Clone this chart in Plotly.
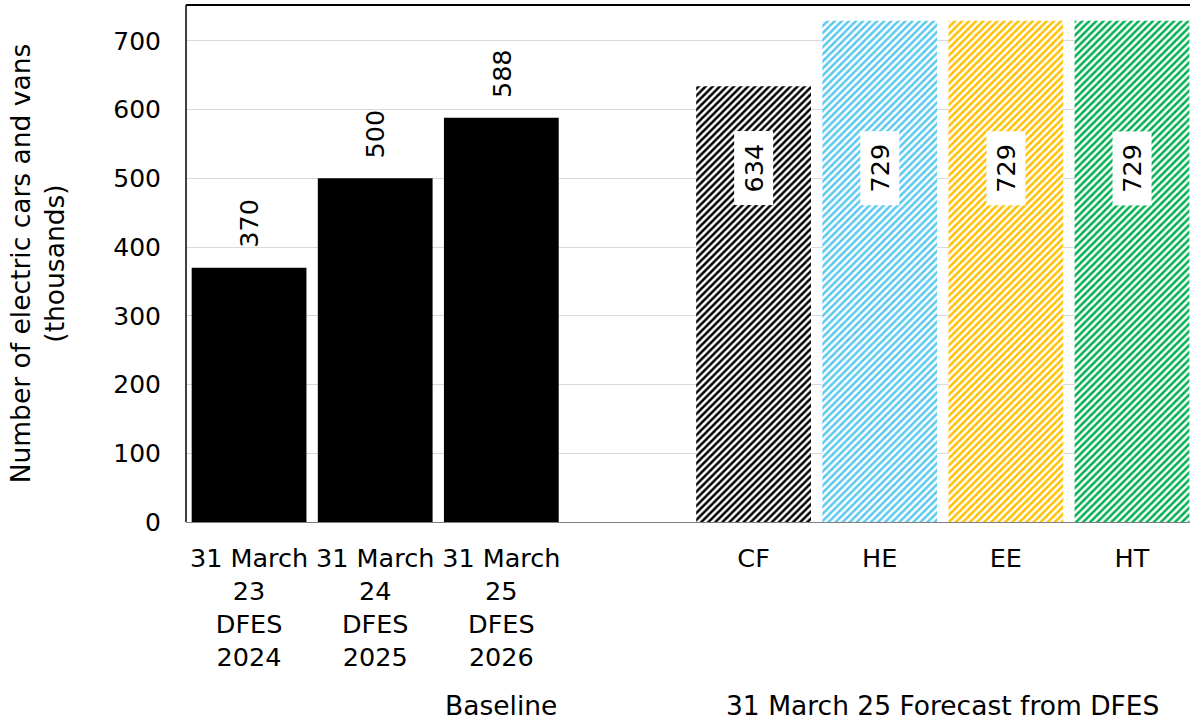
import plotly.graph_objects as go

# Baseline values (thousands of electric cars and vans)
baseline_labels = ["31 March<br>23<br>DFES<br>2024", "31 March<br>24<br>DFES<br>2025", "31 March<br>25<br>DFES<br>2026"]
baseline_values = [370, 500, 588]

# Scenario forecasts for 31 March 25
forecast_labels = ["CF", "HE", "EE", "HT"]
forecast_values = [634, 729, 729, 729]
forecast_colors = ["#000000", "#5BC8F0", "#FFC000", "#00B050"]

group_labels = ["Baseline", "31 March 25 Forecast from DFES"]

FONT = "DejaVu Sans"
FS = 26.5
INSIDE_LABEL_Y = 515

# slot layout: three baseline bars, an empty spacer slot, then four scenarios
base_x = list(range(len(baseline_values)))
fc_x = [len(baseline_values) + 1 + i for i in range(len(forecast_values))]

fig = go.Figure()

fig.add_trace(go.Bar(
    x=base_x, y=baseline_values,
    marker=dict(color="#000000", line=dict(width=0)),
    showlegend=False, hoverinfo="skip",
))

for xi, v, c in zip(fc_x, forecast_values, forecast_colors):
    fig.add_trace(go.Bar(
        x=[xi], y=[v],
        marker=dict(
            color=c,
            line=dict(width=0),
            pattern=dict(shape="/", fgcolor=c, bgcolor="white", size=5, solidity=0.5, fillmode="replace"),
        ),
        showlegend=False, hoverinfo="skip",
    ))

annotations = []
for xi, v in zip(base_x, baseline_values):
    annotations.append(dict(
        x=xi, y=v, xref="x", yref="y", text=str(v), textangle=-90,
        showarrow=False, yanchor="middle", yshift=44,
        font=dict(family=FONT, size=FS - 1, color="black"),
    ))
for xi, v in zip(fc_x, forecast_values):
    annotations.append(dict(
        x=xi, y=INSIDE_LABEL_Y, xref="x", yref="y", text="\u00a0" + str(v) + "\u00a0", textangle=-90,
        showarrow=False, bgcolor="white", borderpad=4,
        font=dict(family=FONT, size=FS - 1, color="black"),
    ))

# group captions under the category labels
annotations.append(dict(
    x=base_x[-1], y=-0.355, xref="x", yref="paper", text=group_labels[0],
    showarrow=False, yanchor="middle", font=dict(family=FONT, size=FS, color="black"),
))
annotations.append(dict(
    x=(fc_x[0] + fc_x[-1]) / 2, y=-0.355, xref="x", yref="paper", text=group_labels[1],
    showarrow=False, yanchor="middle", font=dict(family=FONT, size=FS, color="black"),
))

# plot frame: black left and top edges
shapes = [
    dict(type="line", xref="paper", yref="paper", x0=0, x1=0, y0=0, y1=1, line=dict(color="black", width=1.5)),
    dict(type="line", xref="paper", yref="paper", x0=0, x1=1, y0=1, y1=1, line=dict(color="black", width=2)),
]

fig.update_layout(
    width=1190, height=725,
    margin=dict(l=186, r=0, t=5, b=203),
    plot_bgcolor="white", paper_bgcolor="white",
    bargap=0.09,
    font=dict(family=FONT, size=FS, color="black"),
    annotations=annotations,
    shapes=shapes,
    xaxis=dict(
        tickmode="array",
        tickvals=base_x + fc_x,
        ticktext=baseline_labels + forecast_labels,
        range=[-0.5, fc_x[-1] + 0.46],
        showgrid=False, zeroline=False,
        showline=True, linecolor="#7f7f7f", linewidth=1,
        ticks="", tickfont=dict(family=FONT, size=FS - 1, color="black"),
        ticklabelstandoff=13,
    ),
    yaxis=dict(
        range=[0, 752],
        tickvals=[0, 100, 200, 300, 400, 500, 600, 700],
        showgrid=True, gridcolor="#d9d9d9", gridwidth=1,
        zeroline=False, showline=False, ticks="",
        tickfont=dict(family=FONT, size=FS - 1.5, color="black"),
        ticklabelstandoff=24,
        title=dict(text="Number of electric cars and vans<br>(thousands)",
                   font=dict(family=FONT, size=FS, color="black"), standoff=40),
    ),
)

fig.write_html("out.html")
